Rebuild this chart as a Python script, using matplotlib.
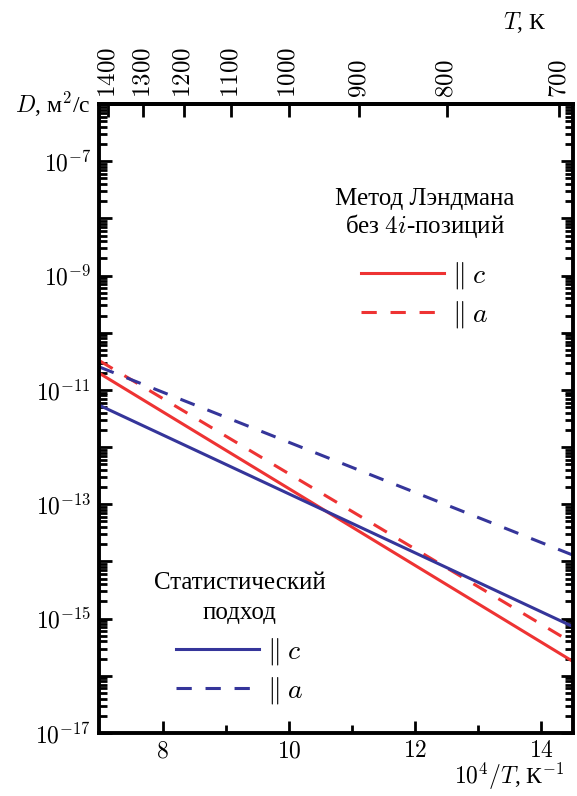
import numpy as np
import matplotlib
matplotlib.use('Agg')
import matplotlib.pyplot as plt
from matplotlib.ticker import FixedLocator, FuncFormatter, LogLocator, NullFormatter
from matplotlib.lines import Line2D

plt.rcParams['font.family'] = ['Liberation Serif', 'DejaVu Serif']
plt.rcParams['mathtext.fontset'] = 'cm'

# 10^4/T values at the ends of the straight (Arrhenius) lines
inv_T = [7.0, 14.5]
# log10(D) at those ends
logD_landman_c = [-10.71, -15.75]
logD_landman_a = [-10.49, -15.43]
logD_stat_c = [-11.27, -15.14]
logD_stat_a = [-10.60, -13.89]

top_temps = [1400, 1300, 1200, 1100, 1000, 900, 800, 700]
bottom_ticks = [8, 10, 12, 14]

red = '#ee3333'
blue = '#35359a'

fig = plt.figure(figsize=(5.77, 7.96), dpi=100)
ax = fig.add_axes([0.1724, 0.0792, 0.8206, 0.7901])

x = np.array(inv_T)
ax.semilogy(x, 10.0 ** np.array(logD_landman_c), color=red, lw=2.2, solid_capstyle='butt')
ax.semilogy(x, 10.0 ** np.array(logD_landman_a), color=red, lw=2.2, dashes=(5, 4.5))
ax.semilogy(x, 10.0 ** np.array(logD_stat_c), color=blue, lw=2.2, solid_capstyle='butt')
ax.semilogy(x, 10.0 ** np.array(logD_stat_a), color=blue, lw=2.2, dashes=(5, 4.5))

ax.set_xlim(7.0, 14.5)
ax.set_ylim(1e-17, 1e-6)

# y ticks: major every decade, labels every other decade
ax.yaxis.set_major_locator(LogLocator(base=10, numticks=20))
ax.yaxis.set_minor_locator(LogLocator(base=10, subs=np.arange(2, 10), numticks=100))
def ylab(v, pos):
    e = int(round(np.log10(v)))
    return r'$10^{%d}$' % e if e % 2 else ''
ax.yaxis.set_major_formatter(FuncFormatter(ylab))
ax.yaxis.set_minor_formatter(NullFormatter())

ax.xaxis.set_major_locator(FixedLocator(bottom_ticks))
ax.xaxis.set_minor_locator(FixedLocator([9, 11, 13]))
ax.xaxis.set_major_formatter(FuncFormatter(lambda v, p: r'$%d$' % v))

for s in ax.spines.values():
    s.set_linewidth(2.8)
ax.tick_params(which='both', direction='in', width=2.0, left=True, right=True, top=False,
               labelsize=17)
ax.tick_params(which='major', length=9, pad=6)
ax.tick_params(which='minor', length=5.5)

top = ax.secondary_xaxis('top', functions=(lambda v: 1e4 / v, lambda t: 1e4 / t))
top.set_xticks(top_temps)
top.xaxis.set_major_formatter(FuncFormatter(lambda v, p: r'$%d$' % round(v)))
top.xaxis.set_minor_locator(FixedLocator([]))
top.tick_params(which='major', direction='in', length=9, width=2.0, labelsize=18,
                labelrotation=90, pad=4)
top.spines['top'].set_linewidth(2.8)

ax.text(-0.02, 1.0, r'$D$, м$^2$/с', transform=ax.transAxes, ha='right', va='center',
        fontsize=17)
ax.text(0.945, 1.13, r'$T$, К', transform=ax.transAxes, ha='right', va='center',
        fontsize=17)
ax.text(0.982, -0.045, r'$10^4/T$, К$^{-1}$', transform=ax.transAxes, ha='right', va='top',
        fontsize=17)

leg_kw = dict(frameon=False, fontsize=20, title_fontsize=18, handlelength=3.0,
              handletextpad=0.3, labelspacing=0.3, borderpad=0, loc='upper center')
h1 = [Line2D([], [], color=red, lw=2.2), Line2D([], [], color=red, lw=2.2, dashes=(5, 4.5))]
leg1 = ax.legend(h1, [r'$\Vert\;c$', r'$\Vert\;a$'], title='Метод Лэндмана\nбез $4i$-позиций',
                 bbox_to_anchor=(0.687, 0.888), **leg_kw)
ax.add_artist(leg1)
h2 = [Line2D([], [], color=blue, lw=2.2), Line2D([], [], color=blue, lw=2.2, dashes=(5, 4.5))]
leg2 = ax.legend(h2, [r'$\Vert\;c$', r'$\Vert\;a$'], title='Статистический\nподход',
                 bbox_to_anchor=(0.296, 0.278), **leg_kw)
for leg, ls, sep in ((leg1, 1.1, 14), (leg2, 1.45, 9)):
    leg.get_title().set_multialignment('center')
    leg.get_title().set_linespacing(ls)
    leg._legend_box.sep = sep

fig.savefig('out.png', dpi=100)
